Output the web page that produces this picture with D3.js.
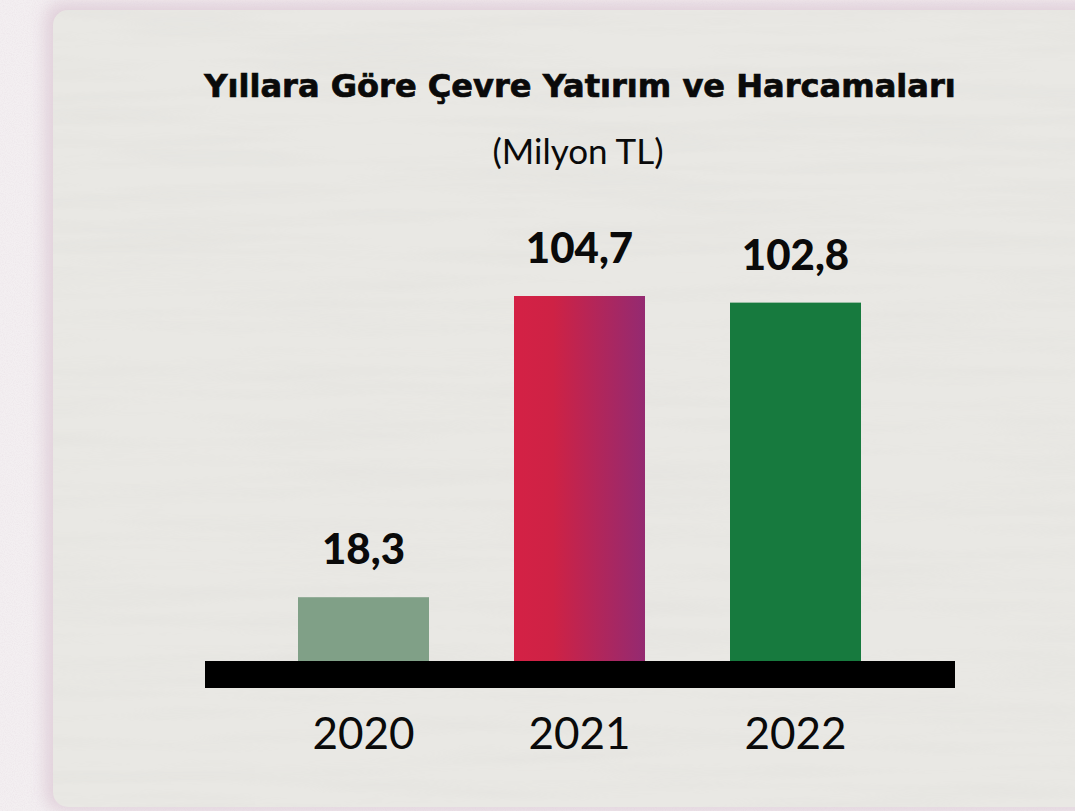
<!DOCTYPE html>
<html>
<head>
<meta charset="utf-8">
<script src="https://cdn.jsdelivr.net/npm/d3@7"></script>
<style>
  html, body { margin: 0; padding: 0; background: #f2eef0; }
  svg { display: block; }
</style>
</head>
<body>
<script>
// Environmental investment and spending by year (million TL)
const years = ["2020", "2021", "2022"];
const values = [18.3, 104.7, 102.8];
const valueLabels = ["18,3", "104,7", "102,8"];
const titleText = "Yıllara Göre Çevre Yatırım ve Harcamaları";
const subtitleText = "(Milyon TL)";

const W = 1075, H = 811;
const svg = d3.select("body").append("svg").attr("width", W).attr("height", H);
const defs = svg.append("defs");

// paper texture
const tex = defs.append("filter").attr("id", "paper").attr("x", 0).attr("y", 0).attr("width", "100%").attr("height", "100%");
tex.append("feTurbulence").attr("type", "fractalNoise").attr("baseFrequency", "0.004 0.06").attr("numOctaves", 3).attr("seed", 7).attr("result", "n");
tex.append("feColorMatrix").attr("in", "n").attr("type", "matrix")
  .attr("values", "0 0 0 0 0.55  0 0 0 0 0.54  0 0 0 0 0.52  0 0 0 -0.9 0.55");

const grain = defs.append("filter").attr("id", "grain").attr("x", 0).attr("y", 0).attr("width", "100%").attr("height", "100%");
grain.append("feTurbulence").attr("type", "fractalNoise").attr("baseFrequency", 0.9).attr("numOctaves", 2).attr("seed", 3).attr("result", "n");
grain.append("feColorMatrix").attr("in", "n").attr("type", "matrix")
  .attr("values", "0 0 0 0 0.75  0 0 0 0 0.66  0 0 0 0 0.72  0 0 0 -1.2 0.75");

// soft pink shadow around the card
const sh = defs.append("filter").attr("id", "shadow").attr("x", "-10%").attr("y", "-10%").attr("width", "120%").attr("height", "120%");
sh.append("feGaussianBlur").attr("stdDeviation", 8);

// outer background
svg.append("rect").attr("width", W).attr("height", H).attr("fill", "#f3eff1");
svg.append("rect").attr("width", W).attr("height", H).attr("filter", "url(#grain)").attr("opacity", 0.45);

// card
svg.append("rect").attr("x", 45).attr("y", 2).attr("width", W).attr("height", H - 2).attr("rx", 18)
  .attr("fill", "#dfcdd8").attr("filter", "url(#shadow)").attr("opacity", 0.9);
svg.append("rect").attr("x", 53).attr("y", 10).attr("width", W + 20).attr("height", H - 14).attr("rx", 15)
  .attr("fill", "#e9e8e4");
svg.append("clipPath").attr("id", "cardClip").append("rect")
  .attr("x", 53).attr("y", 10).attr("width", W + 20).attr("height", H - 14).attr("rx", 15);
svg.append("rect").attr("x", 53).attr("y", 10).attr("width", W).attr("height", H)
  .attr("clip-path", "url(#cardClip)").attr("filter", "url(#paper)").attr("opacity", 0.18);

// title, sized to span its line
const title = svg.append("text").attr("x", 580).attr("y", 97).attr("text-anchor", "middle")
  .attr("font-family", "DejaVu Sans").attr("font-weight", 700).attr("font-size", 30)
  .attr("fill", "#0a0a0a").attr("stroke", "#0a0a0a").attr("stroke-width", 0.7)
  .text(titleText);
const tw = title.node().getComputedTextLength();
title.attr("font-size", 30 * 752 / tw);

svg.append("text").attr("x", 578).attr("y", 164).attr("text-anchor", "middle")
  .attr("font-family", "Lato").attr("font-weight", 400).attr("font-size", 35).attr("fill", "#0a0a0a")
  .text(subtitleText);

// scales
const baseY = 661;
const x = d3.scaleBand().domain(years).range([255.5, 903.5]).paddingInner(85 / 216).paddingOuter(85 / 432);
const y = d3.scaleLinear().domain([0, 104.7]).range([baseY, 296]);

// gradient for the 2021 bar
const grad = defs.append("linearGradient").attr("id", "g2021").attr("x1", "0%").attr("x2", "100%");
grad.append("stop").attr("offset", "0%").attr("stop-color", "#d42145");
grad.append("stop").attr("offset", "30%").attr("stop-color", "#ce2245");
grad.append("stop").attr("offset", "100%").attr("stop-color", "#942a71");
const fills = ["#80a087", "url(#g2021)", "#177a3e"];

const data = years.map((yr, i) => ({ year: yr, value: values[i], label: valueLabels[i], fill: fills[i] }));

svg.append("g").selectAll("rect").data(data).join("rect")
  .attr("x", d => x(d.year)).attr("width", x.bandwidth())
  .attr("y", d => y(d.value)).attr("height", d => baseY - y(d.value))
  .attr("fill", d => d.fill);

svg.append("g").selectAll("text").data(data).join("text")
  .attr("x", d => x(d.year) + x.bandwidth() / 2).attr("y", d => y(d.value) - 33)
  .attr("text-anchor", "middle")
  .attr("font-family", "Lato").attr("font-weight", 900).attr("font-size", 42).attr("fill", "#0a0a0a")
  .text(d => d.label);

// thick baseline
svg.append("rect").attr("x", 205).attr("y", baseY).attr("width", 750).attr("height", 27).attr("fill", "#000");

// year axis
const axis = svg.append("g").attr("transform", `translate(0,${baseY + 27})`)
  .call(d3.axisBottom(x).tickSize(0).tickPadding(0));
axis.select(".domain").remove();
axis.selectAll("text")
  .attr("dy", 0).attr("y", 61)
  .attr("font-family", "Lato").attr("font-weight", 400).attr("font-size", 44).attr("fill", "#0a0a0a");
</script>
</body>
</html>
